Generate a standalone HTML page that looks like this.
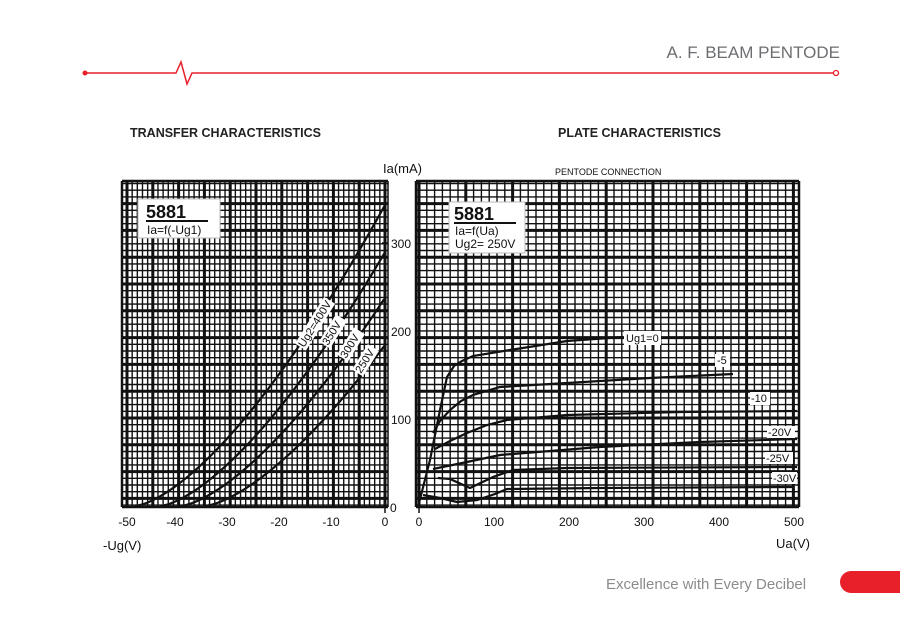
<!DOCTYPE html>
<html><head><meta charset="utf-8"><style>
html,body{margin:0;padding:0;background:#fff;width:900px;height:618px;overflow:hidden}
svg{display:block}
text{font-family:"Liberation Sans",sans-serif}
</style></head><body>
<svg id="s" width="900" height="618" viewBox="0 0 900 618" xmlns="http://www.w3.org/2000/svg">
<text x="840" y="58" text-anchor="end" font-size="17" fill="#6d6e71">A. F. BEAM PENTODE</text>
<path d="M85 73 H176 L181 62 L187 84 L192 73 H833" stroke="#e8202a" stroke-width="1.5" fill="none"/>
<circle cx="85" cy="73" r="2.5" fill="#e8202a"/>
<circle cx="836" cy="73" r="2.5" fill="#fff" stroke="#e8202a" stroke-width="1.3"/>
<text x="130" y="137" font-size="12.5" font-weight="bold" fill="#222">TRANSFER CHARACTERISTICS</text>
<text x="558" y="137" font-size="12.5" font-weight="bold" fill="#222">PLATE CHARACTERISTICS</text>
<text x="555" y="175" font-size="9" fill="#111">PENTODE CONNECTION</text>
<text x="383" y="173" font-size="13" fill="#111">Ia(mA)</text>
<g id="grid"></g>
<g id="curves" fill="none" stroke="#111" stroke-width="2.2"></g>
<g font-size="12" fill="#111">
<text x="127" y="526" text-anchor="middle">-50</text><text x="175" y="526" text-anchor="middle">-40</text>
<text x="227" y="526" text-anchor="middle">-30</text><text x="279" y="526" text-anchor="middle">-20</text>
<text x="331" y="526" text-anchor="middle">-10</text><text x="385" y="526" text-anchor="middle">0</text>
<text x="419" y="526" text-anchor="middle">0</text><text x="494" y="526" text-anchor="middle">100</text>
<text x="569" y="526" text-anchor="middle">200</text><text x="644" y="526" text-anchor="middle">300</text>
<text x="719" y="526" text-anchor="middle">400</text><text x="794" y="526" text-anchor="middle">500</text>
<text x="390" y="512">0</text><text x="391" y="424">100</text>
<text x="391" y="336">200</text><text x="391" y="248">300</text>
<text x="103" y="550" font-size="13">-Ug(V)</text>
<text x="776" y="548" font-size="13">Ua(V)</text>
</g>
<rect x="138" y="199" width="82" height="39" fill="#fff" stroke="#bbb"/>
<text x="146" y="218" font-size="18" font-weight="bold" fill="#111">5881</text>
<line x1="146" y1="221" x2="208" y2="221" stroke="#111" stroke-width="2"/>
<text x="147" y="234" font-size="12" fill="#111">Ia=f(-Ug1)</text>
<rect x="449" y="202" width="76" height="51" fill="#fff" stroke="#bbb"/>
<text x="454" y="220" font-size="18" font-weight="bold" fill="#111">5881</text>
<line x1="454" y1="223" x2="516" y2="223" stroke="#111" stroke-width="2"/>
<text x="455" y="235" font-size="12" fill="#111">Ia=f(Ua)</text>
<text x="455" y="248" font-size="12" fill="#111">Ug2= 250V</text>
<g font-size="11" fill="#111">
<g transform="translate(304,348) rotate(-58)"><rect x="-1" y="-10" width="55" height="13" fill="#fff"/><text x="0" y="0">Ug2=400V</text></g>
<g transform="translate(328,346) rotate(-58)"><rect x="-1" y="-10" width="32" height="13" fill="#fff"/><text x="0" y="0">350V</text></g>
<g transform="translate(346,359) rotate(-58)"><rect x="-1" y="-10" width="32" height="13" fill="#fff"/><text x="0" y="0">300V</text></g>
<g transform="translate(361,374) rotate(-58)"><rect x="-1" y="-10" width="30" height="13" fill="#fff"/><text x="0" y="0">250V</text></g>
<rect x="624" y="331" width="37" height="14" fill="#fff"/><text x="626" y="342">Ug1=0</text>
<rect x="715" y="354" width="15" height="13" fill="#fff"/><text x="717" y="364">-5</text>
<rect x="750" y="392" width="20" height="13" fill="#fff"/><text x="751" y="402">-10</text>
<rect x="767" y="426" width="28" height="12" fill="#fff"/><text x="768" y="436">-20V</text>
<rect x="765" y="452" width="28" height="12" fill="#fff"/><text x="766" y="462">-25V</text>
<rect x="772" y="472" width="25" height="12" fill="#fff"/><text x="773" y="482">-30V</text>
</g>
<text x="606" y="589" font-size="15" fill="#8a8b8d">Excellence with Every Decibel</text>
<rect x="840" y="571" width="80" height="22" rx="11" fill="#e8202a"/>
</svg>
<script>
(function(){
var NS="http://www.w3.org/2000/svg",g=document.getElementById('grid'),c=document.getElementById('curves');
function L(x1,y1,x2,y2,w){var l=document.createElementNS(NS,'line');l.setAttribute('x1',x1);l.setAttribute('y1',y1);l.setAttribute('x2',x2);l.setAttribute('y2',y2);l.setAttribute('stroke','#111');l.setAttribute('stroke-width',w);g.appendChild(l);}
var T0=181,B0=507,yp=function(m){return 506-m*0.875;};
var x,y,v,i,k;
var TH=1.4,TK=3;
for(v=-51;v<=0;v++){x=385+v*5.16;L(x,T0,x,B0,(v%5==0)?TK:TH);}
L(122,T0,122,B0,2.5);
for(k=-40;k<=20;k++){y=418+k*6.7;if(y<T0||y>B0)continue;var w=(Math.abs(k)%4==0)?TK:TH;L(122,y,388,y,w);L(416,y,799,y,w);}
L(122,T0,388,T0,2.5);L(122,B0,388,B0,2.5);L(388,T0,388,B0,1.5);
for(i=0;i<=49;i++){x=419+i*7.8;if(x>799)break;L(x,T0,x,B0,(i%6==0)?TK:TH);}
L(416,T0,416,B0,2.5);L(799,T0,799,B0,2.5);
L(416,T0,799,T0,2.5);L(416,B0,799,B0,2.5);
L(382,507,388,507,1.5);L(382,418,388,418,1.5);L(382,331,388,331,1.5);L(382,243,388,243,1.5);
L(385,507,385,513,1.5);L(419,507,419,513,1.5);
function P(pts){var p=document.createElementNS(NS,'path');p.setAttribute('d','M'+pts.map(function(q){return q.join(' ')}).join(' L'));c.appendChild(p);}
function T(v0,end){var kk=end/Math.pow(-v0,1.5),pts=[];for(var vv=v0;vv<=0.01;vv+=0.5){pts.push([385+vv*5.16,yp(kk*Math.pow(vv-v0,1.5))]);}P(pts);}
T(-48.5,344);T(-43.6,290);T(-39.7,238);T(-35,184);
P([[418,507],[430,460],[440,410],[447,377],[454,366],[462,361],[473,356],[510,350],[567,341],[623,337]]);
P([[433,433],[440,421],[450,410],[461,401],[473,395],[500,387],[567,383],[650,378],[733,374]]);
P([[435,449],[450,441],[467,433],[487,425],[507,420],[567,415],[680,412],[797,411]]);
P([[433,469],[467,462],[500,455],[600,447],[700,442],[797,439]]);
P([[438,478],[450,479],[470,488],[493,477],[513,470],[567,468],[797,467]]);
P([[423,495],[440,498],[457,502],[477,500],[495,494],[507,489],[600,488],[793,487]]);
})();
</script>
</body></html>
